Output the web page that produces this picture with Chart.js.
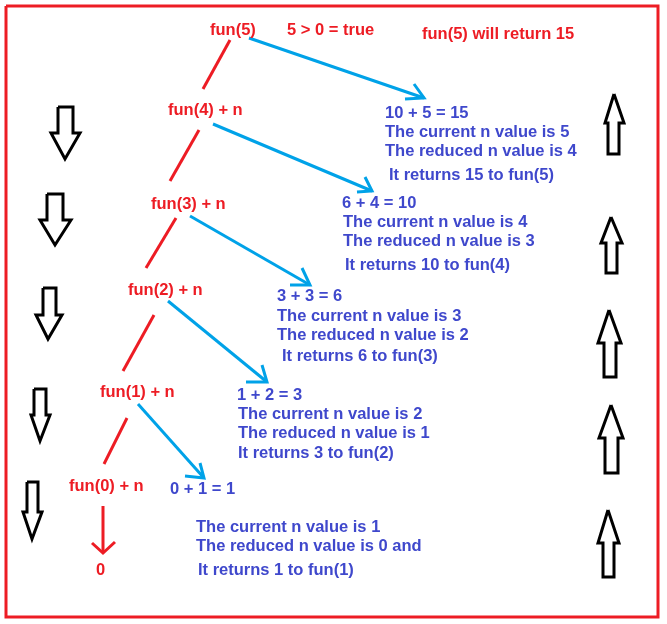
<!DOCTYPE html>
<html>
<head>
<meta charset="utf-8">
<script src="https://cdn.jsdelivr.net/npm/chart.js@4.4.1/dist/chart.umd.min.js"></script>
<style>
  html, body { margin: 0; padding: 0; background: #fff; }
  #wrap { width: 667px; height: 624px; position: relative; }
</style>
</head>
<body>
<div id="wrap"><canvas id="recursionChart"></canvas></div>
<script>
// red call labels (text, x, y in picture units)
const callText = ["fun(5)", "5 > 0 = true", "fun(5) will return 15", "fun(4) + n", "fun(3) + n", "fun(2) + n", "fun(1) + n", "fun(0) + n", "0"];
const callX = [210, 287, 422, 168, 151, 128, 100, 69, 96];
const callY = [30, 30, 34, 110, 204, 290, 392, 486, 570];

// blue explanation labels
const stepText = [
  "10 + 5 = 15", "The current n value is 5", "The reduced n value is 4", "It returns 15 to fun(5)",
  "6 + 4 = 10", "The current n value is 4", "The reduced n value is 3", "It returns 10 to fun(4)",
  "3 + 3 = 6", "The current n value is 3", "The reduced n value is 2", "It returns 6 to fun(3)",
  "1 + 2 = 3", "The current n value is 2", "The reduced n value is 1", "It returns 3 to fun(2)",
  "0 + 1 = 1", "The current n value is 1", "The reduced n value is 0 and", "It returns 1 to fun(1)"
];
const stepX = [385, 385, 385, 389, 342, 343, 343, 345, 277, 277, 277, 282, 237, 238, 238, 238, 170, 196, 196, 198];
const stepY = [113, 132, 151, 175, 203, 222, 241, 265, 296, 316, 335, 356, 395, 414, 433, 453, 489, 527, 546, 570];

// red links between calls: [x1, y1, x2, y2]
const callLinks = [
  [230, 40, 203, 89],
  [199, 130, 170, 181],
  [176, 218, 146, 268],
  [154, 315, 123, 371],
  [127, 418, 104, 464]
];
// red arrow down to the 0
const baseArrow = [[103, 506], [103, 553]];
const baseHead = [[92, 543], [103, 553], [115, 542]];

// blue links: [x1, y1, tipX, tipY]
const stepLinks = [
  [249, 38, 424, 98],
  [213, 124, 372, 191],
  [190, 216, 310, 285],
  [168, 301, 267, 382],
  [138, 404, 204, 478]
];
// blue arrow heads: [armUp, tip, armLeft]
const stepHeads = [
  [[414, 84], [424, 98], [405, 99]],
  [[365, 177], [372, 191], [357, 192]],
  [[302, 268], [310, 285], [290, 285]],
  [[262, 365], [267, 382], [246, 382]],
  [[200, 463], [204, 478], [185, 476]]
];

// black outline arrows pointing down (left column)
const downArrows = [
  [[58, 107], [73, 107], [73, 133], [80, 133], [65, 159], [51, 133], [58, 133], [58, 107]],
  [[47, 194], [63, 194], [63, 220], [71, 220], [55, 245], [40, 220], [47, 220], [47, 194]],
  [[43, 288], [56, 288], [56, 315], [62, 315], [48, 339], [36, 315], [43, 315], [43, 288]],
  [[34, 389], [46, 389], [46, 415], [50, 415], [40, 441], [31, 415], [34, 415], [34, 389]],
  [[27, 482], [38, 482], [38, 512], [42, 512], [32, 539], [23, 512], [27, 512], [27, 482]]
];
// black outline arrows pointing up (right column)
const upArrows = [
  [[614, 94], [624, 123], [619, 123], [619, 154], [608, 154], [608, 123], [605, 123], [614, 94]],
  [[611, 217], [622, 243], [617, 243], [617, 273], [606, 273], [606, 243], [601, 243], [611, 217]],
  [[609, 310], [621, 343], [616, 343], [616, 377], [604, 377], [604, 343], [598, 343], [609, 310]],
  [[611, 405], [623, 438], [618, 438], [618, 473], [605, 473], [605, 438], [599, 438], [611, 405]],
  [[608, 510], [619, 543], [614, 543], [614, 577], [603, 577], [603, 543], [598, 543], [608, 510]]
];

// frame
const frame = [[6, 6], [658, 6], [658, 617], [6, 617], [6, 6]];

const RED = "rgb(237, 28, 36)";
const BLUE_LINE = "rgb(0, 162, 232)";
const BLUE_TEXT = "rgb(63, 72, 204)";

function pts(list) {
  return list.map(p => ({ x: p[0], y: p[1] }));
}
function path(list, color, width) {
  return {
    data: pts(list),
    showLine: true,
    borderColor: color,
    borderWidth: width,
    pointRadius: 0,
    fill: false,
    tension: 0,
    clip: false,
    borderJoinStyle: "miter",
    borderCapStyle: "butt"
  };
}

const datasets = [];
datasets.push(path(frame, RED, 3));
callLinks.forEach(l => datasets.push(path([[l[0], l[1]], [l[2], l[3]]], RED, 3)));
datasets.push(path(baseArrow, RED, 3));
datasets.push(path(baseHead, RED, 3));
stepLinks.forEach(l => datasets.push(path([[l[0], l[1]], [l[2], l[3]]], BLUE_LINE, 3)));
stepHeads.forEach(h => datasets.push(path(h, BLUE_LINE, 3)));
downArrows.forEach(a => datasets.push(path(a, "#000", 3)));
upArrows.forEach(a => datasets.push(path(a, "#000", 3)));

// draw the text labels on top, placed through the chart's scales
const labelPlugin = {
  id: "labels",
  afterDatasetsDraw(chart) {
    const { ctx, scales } = chart;
    ctx.save();
    ctx.textAlign = "left";
    ctx.textBaseline = "middle";
    ctx.font = "bold 16.5px 'Liberation Sans', Arial, sans-serif";
    ctx.fillStyle = RED;
    callText.forEach((t, i) => {
      ctx.fillText(t, scales.x.getPixelForValue(callX[i]), scales.y.getPixelForValue(callY[i]));
    });
    ctx.fillStyle = BLUE_TEXT;
    stepText.forEach((t, i) => {
      ctx.fillText(t, scales.x.getPixelForValue(stepX[i]), scales.y.getPixelForValue(stepY[i]));
    });
    ctx.restore();
  }
};

const ctx = document.getElementById("recursionChart").getContext("2d");
new Chart(ctx, {
  type: "scatter",
  data: { datasets: datasets },
  options: {
    responsive: true,
    maintainAspectRatio: false,
    animation: false,
    events: [],
    layout: { padding: 0 },
    plugins: {
      legend: { display: false },
      tooltip: { enabled: false }
    },
    scales: {
      x: { type: "linear", min: 0, max: 667, display: false },
      y: { type: "linear", min: 0, max: 624, reverse: true, display: false }
    }
  },
  plugins: [labelPlugin]
});
</script>
</body>
</html>
